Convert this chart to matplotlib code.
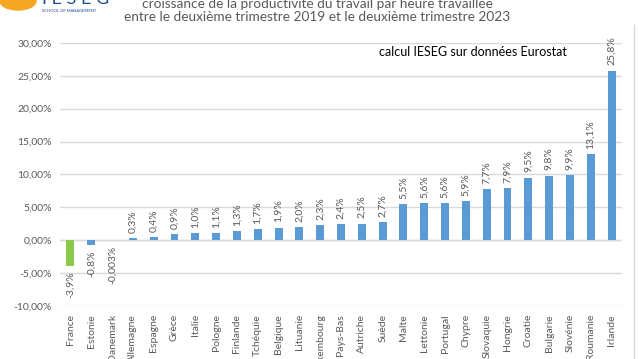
import numpy as np
import matplotlib.pyplot as plt
from matplotlib.patches import Ellipse

plt.rcParams['font.family'] = ['Lato', 'DejaVu Sans']

pays = ["France", "Estonie", "Danemark", "Allemagne", "Espagne", "Grèce", "Italie",
        "Pologne", "Finlande", "Tchéquie", "Belgique", "Lituanie", "Luxembourg",
        "Pays-Bas", "Autriche", "Suède", "Malte", "Lettonie", "Portugal", "Chypre",
        "Slovaquie", "Hongrie", "Croatie", "Bulgarie", "Slovénie", "Roumanie", "Irlande"]
valeurs = [-3.9, -0.8, -0.003, 0.3, 0.4, 0.9, 1.0, 1.1, 1.3, 1.7, 1.9, 2.0, 2.3,
           2.4, 2.5, 2.7, 5.5, 5.6, 5.6, 5.9, 7.7, 7.9, 9.5, 9.8, 9.9, 13.1, 25.8]
etiquettes = ["-3,9%", "-0,8%", "-0,003%", "0,3%", "0,4%", "0,9%", "1,0%", "1,1%",
              "1,3%", "1,7%", "1,9%", "2,0%", "2,3%", "2,4%", "2,5%", "2,7%", "5,5%",
              "5,6%", "5,6%", "5,9%", "7,7%", "7,9%", "9,5%", "9,8%", "9,9%", "13,1%",
              "25,8%"]
yticks = [-10, -5, 0, 5, 10, 15, 20, 25, 30]

gris = '#595959'
bleu = '#5B9BD5'
vert = '#8CC84B'

fig = plt.figure(figsize=(6.38, 3.59), dpi=100)
ax = fig.add_axes([60/638, 1-305.7/359, 562/638, (305.7-43)/359])

x = np.arange(len(pays))
couleurs = [vert if p == "France" else bleu for p in pays]
ax.bar(x, valeurs, width=0.38, color=couleurs, zorder=3)

for xi, v, lab in zip(x, valeurs, etiquettes):
    if v >= 0:
        ax.text(xi, v + 0.8, lab, rotation=90, ha='center', va='bottom', fontsize=7.5, color=gris)
    else:
        ax.text(xi, v - 0.8, lab, rotation=90, ha='center', va='top', fontsize=7.5, color=gris)

ax.set_xlim(-0.5, len(pays) - 0.5)
ax.set_ylim(-10, 30)
ax.set_yticks(yticks)
ax.set_yticklabels([f"{t:.2f}%".replace('.', ',') for t in yticks], fontsize=7.5, color=gris)
ax.set_xticks(x)
ax.set_xticklabels(pays, rotation=90, fontsize=7.5, color=gris)
ax.tick_params(length=0, pad=6)
ax.yaxis.grid(True, color='#D9D9D9', linewidth=1, zorder=0)
ax.axhline(0, color='#D9D9D9', linewidth=1, zorder=1)
for s in ax.spines.values():
    s.set_visible(False)

ax.text(0.735, 0.965, "calcul IESEG sur données Eurostat", transform=ax.transAxes,
        ha='center', va='center', fontsize=9, color='black')

# titre (coupé en haut)
fig.text(317/638, 1-4/359, "croissance de la productivité du travail par heure travaillée",
         ha='center', va='center', fontsize=9.8, color=gris)
fig.text(317/638, 1-17/359, "entre le deuxième trimestre 2019 et le deuxième trimestre 2023",
         ha='center', va='center', fontsize=9.8, color=gris)

# logo approximatif
fig.patches.append(Ellipse((18/638, 1-1/359), 36/638, 18/359, transform=fig.transFigure,
                           color='#F5A623', zorder=5))
fig.text(42/638, 1+1/359, "I E S E G", ha='left', va='center', fontsize=13, color='#1F4E8C')
fig.text(42/638, 1-11/359, "SCHOOL OF MANAGEMENT", ha='left', va='center', fontsize=3,
         color='#1F4E8C')

# bordure droite
fig.add_artist(plt.Line2D([634/638, 634/638], [0, 1-25/359], transform=fig.transFigure,
                          color='#D9D9D9', linewidth=1))

fig.savefig("out.png", dpi=100)
